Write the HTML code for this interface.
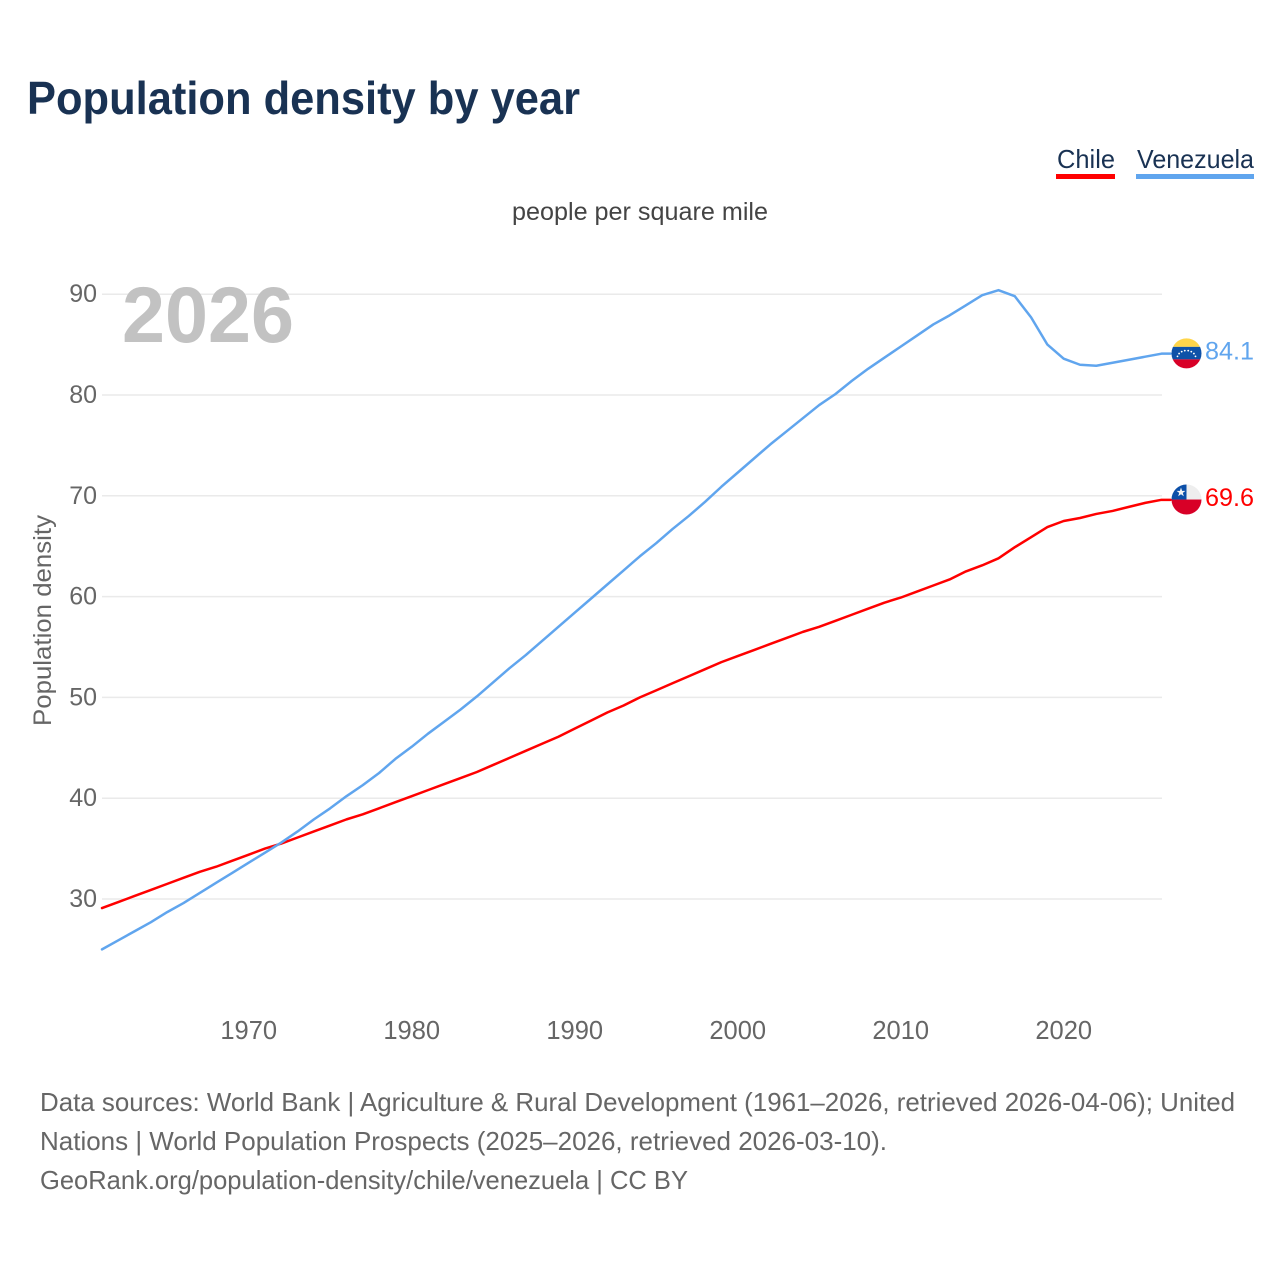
<!DOCTYPE html>
<html>
<head>
<meta charset="utf-8">
<title>Population density by year</title>
<style>
html,body{margin:0;padding:0;background:#fff}
svg{display:block}
text{font-family:"Liberation Sans",sans-serif}
</style>
</head>
<body>
<svg id="chart" xmlns="http://www.w3.org/2000/svg" width="1280" height="1280" viewBox="0 0 1280 1280">
  <defs>
    <clipPath id="flag-clip"><circle cx="0" cy="0" r="15"></circle></clipPath>
  </defs>
  <rect width="1280" height="1280" fill="#fff"></rect>
  <text x="27" y="114" font-size="46" font-weight="700" fill="#193253" textLength="553" lengthAdjust="spacingAndGlyphs">Population density by year</text>

  <g>
    <text x="1057" y="168" font-size="26" fill="#193253" textLength="58" lengthAdjust="spacingAndGlyphs">Chile</text>
    <rect x="1056" y="174" width="59" height="5" fill="#ff0000"></rect>
  </g>
  <g>
    <text x="1137" y="168" font-size="26" fill="#193253" textLength="117" lengthAdjust="spacingAndGlyphs">Venezuela</text>
    <rect x="1136" y="174" width="118" height="5" fill="#60a5ee"></rect>
  </g>

  <text x="512" y="220" font-size="25" fill="#444" textLength="256" lengthAdjust="spacingAndGlyphs">people per square mile</text>

  <g id="grid"></g>
  <g id="yticks"></g>
  <g id="xticks"></g>

  <text x="122" y="342" font-size="79" font-weight="700" fill="#c2c2c2" textLength="172" lengthAdjust="spacingAndGlyphs">2026</text>
  <text transform="translate(51,726) rotate(-90)" font-size="25" fill="#666" textLength="211" lengthAdjust="spacingAndGlyphs">Population density</text>

  <g id="series"></g>

  <g id="flag-venezuela">
    <g clip-path="url(#flag-clip)">
      <rect x="-16" y="-16" width="32" height="9.5" fill="#ffd54a"></rect>
      <rect x="-16" y="-6.5" width="32" height="12.5" fill="#0f52a8"></rect>
      <rect x="-16" y="6" width="32" height="10" fill="#d80027"></rect>
      <g fill="#fff">
        <circle cx="-9" cy="3" r="0.9"></circle><circle cx="-7.4" cy="0.2" r="0.9"></circle>
        <circle cx="-4.8" cy="-1.7" r="0.9"></circle><circle cx="-1.7" cy="-2.7" r="0.9"></circle>
        <circle cx="1.7" cy="-2.7" r="0.9"></circle><circle cx="4.8" cy="-1.7" r="0.9"></circle>
        <circle cx="7.4" cy="0.2" r="0.9"></circle><circle cx="9" cy="3" r="0.9"></circle>
      </g>
    </g>
  </g>
  <g id="flag-chile">
    <g clip-path="url(#flag-clip)">
      <rect x="-16" y="-16" width="32" height="16" fill="#eeeeee"></rect>
      <rect x="-16" y="-16" width="16" height="16" fill="#0b4fa8"></rect>
      <rect x="-16" y="0" width="32" height="16" fill="#d80027"></rect>
      <polygon points="-5.5,-12 -4.4,-8.7 -1,-8.7 -3.7,-6.6 -2.7,-3.3 -5.5,-5.3 -8.3,-3.3 -7.3,-6.6 -10,-8.7 -6.6,-8.7" fill="#f4f4f4"></polygon>
    </g>
  </g>

  <text id="end-label-venezuela" x="1205" font-size="25" fill="#60a5ee" textLength="49" lengthAdjust="spacingAndGlyphs"></text>
  <text id="end-label-chile" x="1205" font-size="25" fill="#ff0000" textLength="49" lengthAdjust="spacingAndGlyphs"></text>

  <g font-size="26" fill="#666">
    <text x="40" y="1111" textLength="1195" lengthAdjust="spacingAndGlyphs">Data sources: World Bank | Agriculture &amp; Rural Development (1961–2026, retrieved 2026-04-06); United</text>
    <text x="40" y="1150" textLength="847" lengthAdjust="spacingAndGlyphs">Nations | World Population Prospects (2025–2026, retrieved 2026-03-10).</text>
    <text x="40" y="1189" textLength="648" lengthAdjust="spacingAndGlyphs">GeoRank.org/population-density/chile/venezuela | CC BY</text>
  </g>
</svg>
<script>
const startYear = 1961;
const yTickValues = [30, 40, 50, 60, 70, 80, 90];
const xTickValues = [1970, 1980, 1990, 2000, 2010, 2020];
const chileValues = [29.1,29.7,30.3,30.9,31.5,32.1,32.7,33.2,33.8,34.4,35.0,35.5,36.1,36.7,37.3,37.9,38.4,39.0,39.6,40.2,40.8,41.4,42.0,42.6,43.3,44.0,44.7,45.4,46.1,46.9,47.7,48.5,49.2,50.0,50.7,51.4,52.1,52.8,53.5,54.1,54.7,55.3,55.9,56.5,57.0,57.6,58.2,58.8,59.4,59.9,60.5,61.1,61.7,62.5,63.1,63.8,64.9,65.9,66.9,67.5,67.8,68.2,68.5,68.9,69.3,69.6];
const venezuelaValues = [25.0,25.9,26.8,27.7,28.7,29.6,30.6,31.6,32.6,33.6,34.6,35.6,36.7,37.9,39.0,40.2,41.3,42.5,43.9,45.1,46.4,47.6,48.8,50.1,51.5,52.9,54.2,55.6,57.0,58.4,59.8,61.2,62.6,64.0,65.3,66.7,68.0,69.4,70.9,72.3,73.7,75.1,76.4,77.7,79.0,80.1,81.4,82.6,83.7,84.8,85.9,87.0,87.9,88.9,89.9,90.4,89.8,87.7,85.0,83.6,83.0,82.9,83.2,83.5,83.8,84.1];

const NS = 'http://www.w3.org/2000/svg';
function xScale(year) { return 248.7 + (year - 1970) * 16.3; }
function yScale(value) { return 294.2 + (90 - value) * 10.08; }
function make(tag, attrs, parent) {
  const el = document.createElementNS(NS, tag);
  for (const k in attrs) el.setAttribute(k, attrs[k]);
  parent.appendChild(el);
  return el;
}

const grid = document.getElementById('grid');
const yticks = document.getElementById('yticks');
const xticks = document.getElementById('xticks');

yTickValues.forEach(function (v) {
  const line = make('line', { x1: 102, x2: 1162, y1: yScale(v), y2: yScale(v), stroke: '#eaeaea', 'stroke-width': 1.5 }, grid);
  
  
  const t = make('text', { x: 97, y: yScale(v) + 8, 'text-anchor': 'end', 'font-size': 25, fill: '#666' }, yticks);
  t.textContent = v;
  
  
});

xTickValues.forEach(function (v) {
  const t = make('text', { x: xScale(v), y: 1039, 'text-anchor': 'middle', 'font-size': 25.5, fill: '#666' }, xticks);
  t.textContent = v;
  
  
});

function drawSeries(values, color, name) {
  let d = '';
  values.forEach(function (v, i) {
    d += (i ? 'L' : 'M') + xScale(startYear + i).toFixed(2) + ' ' + yScale(v).toFixed(2);
  });
  const lastY = yScale(values[values.length - 1]);
  const lastX = xScale(startYear + values.length - 1);
  d += 'L' + (lastX + 9).toFixed(2) + ' ' + lastY.toFixed(2);
  const path = make('path', { d: d, fill: 'none', stroke: color, 'stroke-width': 2.5, 'stroke-linejoin': 'round', 'stroke-linecap': 'round' }, document.getElementById('series'));
  
  
  return lastY;
}

const chileEnd = drawSeries(chileValues, '#ff0000', 'line-chile');
const venezuelaEnd = drawSeries(venezuelaValues, '#60a5ee', 'line-venezuela');

document.getElementById('flag-chile').setAttribute('transform', 'translate(1186.5,' + (chileEnd - 0.3) + ')');
document.getElementById('flag-venezuela').setAttribute('transform', 'translate(1186.5,' + (venezuelaEnd - 0.3) + ')');
const chileLabel = document.getElementById('end-label-chile');
chileLabel.setAttribute('y', chileEnd + 6);
chileLabel.textContent = chileValues[chileValues.length - 1].toFixed(1);
const venLabel = document.getElementById('end-label-venezuela');
venLabel.setAttribute('y', venezuelaEnd + 6);
venLabel.textContent = venezuelaValues[venezuelaValues.length - 1].toFixed(1);
</script>
</body>
</html>
